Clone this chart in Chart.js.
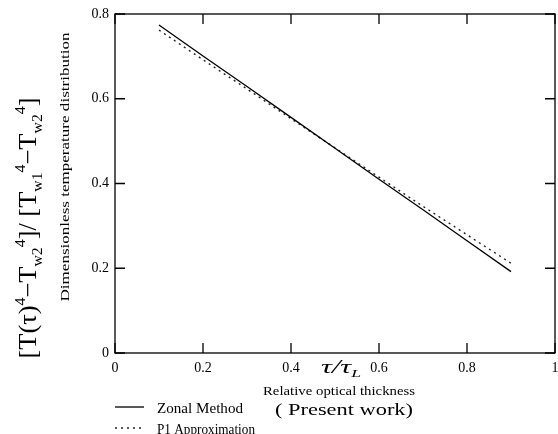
<!DOCTYPE html>
<html>
<head>
<meta charset="utf-8">
<script src="https://cdn.jsdelivr.net/npm/chart.js@4/dist/chart.umd.min.js"></script>
<style>
html,body{margin:0;padding:0;background:#fff;}
#wrap{width:558px;height:434px;}
</style>
</head>
<body>
<div id="wrap"><canvas id="c" width="558" height="434"></canvas></div>
<script>
// ---- data ----
const tauRatio = [0.1, 0.2, 0.3, 0.4, 0.5, 0.6, 0.7, 0.8, 0.9];
const zonalMethod = [0.774, 0.701, 0.629, 0.556, 0.483, 0.410, 0.338, 0.265, 0.192];
const p1Approximation = [0.762, 0.692, 0.623, 0.553, 0.484, 0.415, 0.346, 0.279, 0.212];
const xTickLabels = ['0', '0.2', '0.4', '0.6', '0.8', '1'];
const yTickLabels = ['0', '0.2', '0.4', '0.6', '0.8'];
const seriesNames = ['Zonal Method', 'P1 Approximation'];

const SERIF = '"Liberation Serif", "DejaVu Serif", serif';

function toPoints(xs, ys){ return xs.map((x,i)=>({x:x, y:ys[i]})); }

function drawFit(ctx, text, cx, cy, width, font, rot){
  ctx.save();
  ctx.font = font;
  const w = ctx.measureText(text).width;
  ctx.translate(cx, cy);
  if (rot) ctx.rotate(rot);
  const s = width / w;
  ctx.scale(s, 1);
  ctx.textAlign = 'center';
  ctx.textBaseline = 'middle';
  ctx.fillStyle = '#000';
  ctx.fillText(text, 0, 0);
  ctx.restore();
}

function drawRuns(ctx, runs, F, cx, baseY, length, rot){
  ctx.save();
  const fonts = {
    n: F + 'px ' + SERIF,
    sub: Math.round(F*0.6) + 'px ' + SERIF,
    sup: Math.round(F*0.6) + 'px ' + SERIF,
    it: 'italic ' + F + 'px ' + SERIF,
    itsub: 'italic ' + Math.round(F*0.6) + 'px ' + SERIF
  };
  const shift = {n:0, it:0, sub:F*0.22, itsub:F*0.22, sup:-F*0.45};
  let total = 0;
  const widths = runs.map(r=>{ ctx.font = fonts[r[1]]; const w = ctx.measureText(r[0]).width; total += w; return w; });
  ctx.translate(cx, baseY);
  if (rot) ctx.rotate(rot);
  const s = length ? length/total : 1;
  ctx.scale(s, 1);
  ctx.fillStyle = '#000';
  ctx.textBaseline = 'alphabetic';
  ctx.textAlign = 'left';
  let x = -total/2;
  runs.forEach((r,i)=>{ ctx.font = fonts[r[1]]; ctx.fillText(r[0], x, shift[r[1]]); x += widths[i]; });
  ctx.restore();
}

const decor = {
  id: 'decor',
  afterDraw(chart){
    const ctx = chart.ctx;
    const a = chart.chartArea;
    const xs = chart.scales.x, ys = chart.scales.y;
    ctx.save();
    ctx.strokeStyle = '#000';
    ctx.lineWidth = 1.3;
    ctx.strokeRect(a.left, a.top, a.right - a.left, a.bottom - a.top);
    const TL = 10;
    ctx.beginPath();
    xs.ticks.forEach(t=>{
      const px = xs.getPixelForValue(t.value);
      ctx.moveTo(px, a.bottom); ctx.lineTo(px, a.bottom - TL);
      ctx.moveTo(px, a.top); ctx.lineTo(px, a.top + TL);
    });
    ys.ticks.forEach(t=>{
      const py = ys.getPixelForValue(t.value);
      ctx.moveTo(a.left, py); ctx.lineTo(a.left + TL, py);
      ctx.moveTo(a.right, py); ctx.lineTo(a.right - TL, py);
    });
    ctx.stroke();

    // axis symbol tau/tau_L
    const px4 = xs.getPixelForValue(0.4), px6 = xs.getPixelForValue(0.6);
    drawRuns(ctx, [['τ/τ','it'],['L','itsub']], 19, (px4+px6)/2 + 6, 373, 40, 0);

    // x axis title
    drawFit(ctx, 'Relative optical thickness', 339, 392, 152, '13px ' + SERIF, 0);

    // inner y title
    drawFit(ctx, 'Dimensionless temperature distribution', 66, 167, 269, '13px ' + SERIF, -Math.PI/2);

    // outer y formula title
    drawRuns(ctx, [
      ['[T(τ)','n'],['4','sup'],['−T','n'],['w2','sub'],['4','sup'],[']/ [T','n'],
      ['w1','sub'],['4','sup'],['−T','n'],['w2','sub'],['4','sup'],[']','n']
    ], 25, 36, 228, 261, -Math.PI/2);

    // legend
    const ds = chart.data.datasets;
    ctx.lineWidth = 1.3;
    ctx.strokeStyle = ds[0].borderColor;
    ctx.setLineDash([]);
    ctx.beginPath(); ctx.moveTo(115, 407); ctx.lineTo(144, 407); ctx.stroke();
    ctx.strokeStyle = ds[1].borderColor;
    ctx.setLineDash(ds[1].borderDash);
    ctx.beginPath(); ctx.moveTo(115, 428); ctx.lineTo(144, 428); ctx.stroke();
    ctx.setLineDash([]);
    drawFit(ctx, ds[0].label, 200, 409, 86, '14px ' + SERIF, 0);
    drawFit(ctx, ds[1].label, 206, 430, 98, '14px ' + SERIF, 0);
    drawFit(ctx, '( Present work)', 344, 411, 138, '17px ' + SERIF, 0);
    ctx.restore();
  }
};

new Chart(document.getElementById('c'), {
  type: 'scatter',
  data: {
    datasets: [
      { label: seriesNames[0], data: toPoints(tauRatio, zonalMethod), showLine: true,
        borderColor: '#000', borderWidth: 1.3, pointRadius: 0, fill: false, tension: 0 },
      { label: seriesNames[1], data: toPoints(tauRatio, p1Approximation), showLine: true,
        borderColor: '#222', borderWidth: 1.4, borderDash: [2, 4], pointRadius: 0, fill: false, tension: 0 }
    ]
  },
  options: {
    responsive: false,
    animation: false,
    events: [],
    layout: { padding: { top: 14, right: 3, left: 0, bottom: 0 } },
    plugins: { legend: { display: false }, tooltip: { enabled: false } },
    scales: {
      x: {
        type: 'linear', min: 0, max: 1,
        afterFit(s){ s.height = 81; s.paddingLeft = 0; s.paddingRight = 0; },
        afterBuildTicks(s){ s.ticks = xTickLabels.map(v=>({value: parseFloat(v)})); },
        grid: { display: false, drawTicks: false },
        border: { display: false },
        ticks: { color: '#000', font: { family: SERIF, size: 14 }, padding: 7, maxRotation: 0,
          callback: (v, i) => xTickLabels[i] }
      },
      y: {
        type: 'linear', min: 0, max: 0.8,
        afterFit(s){ s.width = 115; s.paddingTop = 0; s.paddingBottom = 0; },
        afterBuildTicks(s){ s.ticks = yTickLabels.map(v=>({value: parseFloat(v)})); },
        grid: { display: false, drawTicks: false },
        border: { display: false },
        ticks: { color: '#000', font: { family: SERIF, size: 14 }, padding: 6,
          callback: (v, i) => yTickLabels[i] }
      }
    }
  },
  plugins: [decor]
});
</script>
</body>
</html>
